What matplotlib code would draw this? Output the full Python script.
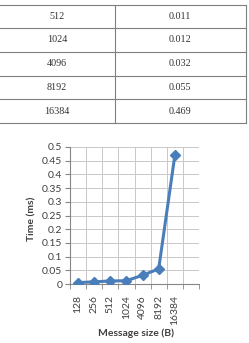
import matplotlib
matplotlib.use("Agg")
import matplotlib.pyplot as plt
import numpy as np
from matplotlib.lines import Line2D

# Table data
table_sizes = ["512", "1024", "4096", "8192", "16384"]
table_times = ["0.011", "0.012", "0.032", "0.055", "0.469"]

# Chart data
categories = ["128", "256", "512", "1024", "4096", "8192", "16384"]
times = [0.005, 0.008, 0.011, 0.012, 0.032, 0.055, 0.469]
ytick_vals = [0, 0.05, 0.1, 0.15, 0.2, 0.25, 0.3, 0.35, 0.4, 0.45, 0.5]
ytick_labels = ["0", "0.05", "0.1", "0.15", "0.2", "0.25", "0.3", "0.35", "0.4", "0.45", "0.5"]

W, H = 249, 343
fig = plt.figure(figsize=(W / 100, H / 100), dpi=100)
fig.patch.set_facecolor("white")

def fx(px):
    return px / W

def fy(py):
    return 1 - py / H

# --- table ---
line_col = "#7f7f7f"
row_lines = [5, 28, 52, 76, 99, 123]
for yy in row_lines:
    fig.add_artist(Line2D([fx(0), fx(246)], [fy(yy), fy(yy)], color=line_col, lw=0.8))
for xx in [115, 246]:
    fig.add_artist(Line2D([fx(xx), fx(xx)], [fy(5), fy(123)], color=line_col, lw=0.8))
for i, (s, t) in enumerate(zip(table_sizes, table_times)):
    yc = (row_lines[i] + row_lines[i + 1]) / 2
    fig.text(fx(57), fy(yc), s, ha="center", va="center", fontsize=7.3,
             family="Liberation Serif", color="#333333")
    fig.text(fx(180), fy(yc), t, ha="center", va="center", fontsize=7.3,
             family="Liberation Serif", color="#333333")

# --- chart ---
ax = fig.add_axes([fx(70), fy(284), fx(199) - fx(70), (284 - 147) / H])
x = np.arange(len(categories))
ax.plot(x, times, color="#4a7ebb", lw=2.2, marker="D", markersize=5,
        markerfacecolor="#4a7ebb", markeredgecolor="#4a7ebb", zorder=3)
ax.set_xlim(-0.5, len(categories) + 0.5)
ax.set_ylim(0, 0.5)
ax.set_yticks(ytick_vals)
ax.set_yticklabels(ytick_labels)
ax.set_xticks(x)
ax.set_xticklabels(categories, rotation=90)
ax.set_xticks(np.arange(-0.5, len(categories) + 1, 1), minor=True)
ax.tick_params(axis="x", which="major", length=0, pad=8)
ax.tick_params(axis="x", which="minor", length=3.5, color="#868686")
ax.tick_params(axis="y", length=3.5, color="#868686", pad=2)
for lab in ax.get_xticklabels() + ax.get_yticklabels():
    lab.set_family("Lato")
    lab.set_fontsize(7.5)
    lab.set_color("#404040")
ax.grid(True, axis="y", which="major", color="#c8c8c8", lw=0.7)
ax.grid(True, axis="x", which="minor", color="#c8c8c8", lw=0.7)
ax.set_axisbelow(True)
for sp in ["top", "right"]:
    ax.spines[sp].set_visible(False)
for sp in ["left", "bottom"]:
    ax.spines[sp].set_color("#868686")
    ax.spines[sp].set_linewidth(0.8)

fig.text(fx(32), fy(219), "Time (ms)", rotation=90, ha="center", va="center",
         fontsize=7.5, fontweight="bold", family="Lato", color="#404040")
fig.text(fx(136), fy(333), "Message size (B)", ha="center", va="center",
         fontsize=7.5, fontweight="bold", family="Lato", color="#404040")

fig.savefig("out.png", dpi=100, facecolor="white")
